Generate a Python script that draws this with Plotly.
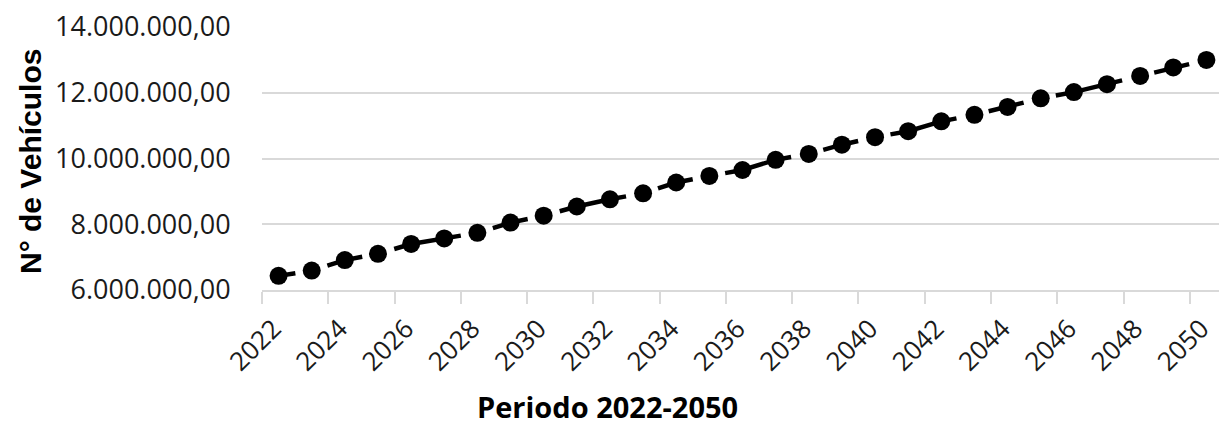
import plotly.graph_objects as go

# Projected vehicle fleet, 2022-2050
years = list(range(2022, 2051))
vehiculos = [
    6430000, 6590000, 6910000, 7100000, 7400000, 7570000, 7740000, 8050000,
    8260000, 8540000, 8760000, 8940000, 9270000, 9470000, 9650000, 9960000,
    10140000, 10420000, 10650000, 10830000, 11130000, 11330000, 11570000,
    11830000, 12020000, 12260000, 12510000, 12770000, 13000000,
]

label_years = years[::2]
label_text = [str(y) for y in label_years]
y_ticks = [6000000, 8000000, 10000000, 12000000, 14000000]
y_tick_text = ["6.000.000,00", "8.000.000,00", "10.000.000,00",
               "12.000.000,00", "14.000.000,00"]

W, H = 1219, 425
ML, MT, MB = 262, 27, 135
plot_w = W - ML
plot_h = H - MT - MB

# long-dash pattern: a short leading stub, then a repeating dash/gap cycle
dash_pattern = "17px,33px," + ",".join(["36px,33px,68px,33px"] * 6)

fig = go.Figure()
fig.add_trace(go.Scatter(
    x=years,
    y=vehiculos,
    mode="lines+markers",
    line=dict(color="black", width=4.5, dash=dash_pattern),
    marker=dict(color="black", size=18, symbol="circle"),
    cliponaxis=False,
    showlegend=False,
))

fig.update_layout(
    width=W,
    height=H,
    margin=dict(l=ML, r=0, t=MT, b=MB, autoexpand=False),
    paper_bgcolor="white",
    plot_bgcolor="white",
    xaxis=dict(
        range=[2021.5, 2050.38],
        tickmode="array",
        tickvals=label_years,
        ticktext=label_text,
        tickangle=-45,
        ticks="outside",
        ticklen=11,
        tickcolor="rgba(0,0,0,0)",
        tickfont=dict(family="Open Sans, sans-serif", size=26, color="#1a1a1a"),
        ticklabeloverflow="allow",
        ticklabelshift=-5,
        showgrid=False,
        showline=True,
        linecolor="#d9d9d9",
        linewidth=2,
        zeroline=False,
        automargin=False,
        minor=dict(
            tickmode="array",
            tickvals=[y - 0.5 for y in label_years],
            ticks="outside",
            ticklen=12,
            tickwidth=2,
            tickcolor="#d9d9d9",
            showgrid=False,
        ),
    ),
    yaxis=dict(
        range=[6000000, 14000000],
        tickmode="array",
        tickvals=y_ticks,
        ticktext=y_tick_text,
        ticks="outside",
        ticklen=25,
        tickcolor="rgba(0,0,0,0)",
        tickfont=dict(family="Open Sans, sans-serif", size=27, color="#1a1a1a"),
        showgrid=True,
        gridcolor="#d9d9d9",
        gridwidth=2,
        showline=False,
        zeroline=False,
        automargin=False,
    ),
    annotations=[
        dict(
            text="<b>Periodo 2022-2050</b>",
            xref="paper", yref="paper",
            x=(607 - ML) / plot_w,
            y=(H - MB - 406) / plot_h,
            xanchor="center", yanchor="middle",
            showarrow=False,
            font=dict(family="Open Sans, sans-serif", size=29, color="black"),
        ),
        dict(
            text="<b>N° de Vehículos</b>",
            xref="paper", yref="paper",
            x=(30 - ML) / plot_w,
            y=(H - MB - 162) / plot_h,
            xanchor="center", yanchor="middle",
            textangle=-90,
            showarrow=False,
            font=dict(family="Liberation Sans, Arial, sans-serif", size=30, color="black"),
        ),
    ],
)

fig.write_html("out.html")
